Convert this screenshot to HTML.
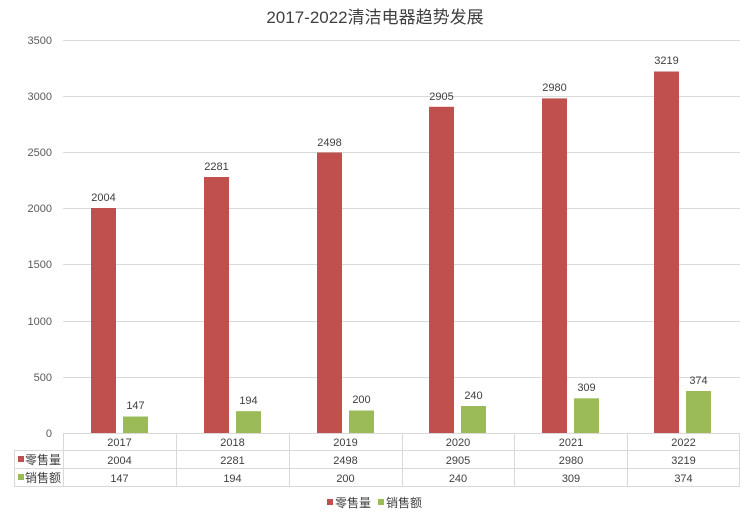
<!DOCTYPE html>
<html><head><meta charset="utf-8"><style>
body{margin:0;background:#fff;}
svg{display:block;font-family:"Liberation Sans","Noto Sans CJK SC",sans-serif;}
</style></head><body>
<svg width="750" height="515" viewBox="0 0 750 515">
<rect width="750" height="515" fill="#fff"/>
<text x="375" y="23" text-anchor="middle" font-size="17" fill="#404040">2017-2022清洁电器趋势发展</text>
<g stroke="#d9d9d9" stroke-width="1">
<line x1="63" y1="40.5" x2="740" y2="40.5"/>
<line x1="63" y1="96.5" x2="740" y2="96.5"/>
<line x1="63" y1="152.5" x2="740" y2="152.5"/>
<line x1="63" y1="208.5" x2="740" y2="208.5"/>
<line x1="63" y1="264.5" x2="740" y2="264.5"/>
<line x1="63" y1="321.5" x2="740" y2="321.5"/>
<line x1="63" y1="377.5" x2="740" y2="377.5"/>
</g>
<g font-size="11" fill="#595959" text-anchor="end">
<text x="52" y="44">3500</text><text x="52" y="100">3000</text><text x="52" y="156">2500</text>
<text x="52" y="212">2000</text><text x="52" y="268">1500</text><text x="52" y="325">1000</text>
<text x="52" y="381">500</text><text x="52" y="437">0</text>
</g>
<g id="bars" font-size="11" fill="#404040" text-anchor="middle">
<rect x="91" y="208" width="25" height="225" fill="#c0504d"/><text x="103.5" y="201">2004</text>
<rect x="123" y="416.5" width="25" height="16.5" fill="#9bbb59"/><text x="135.5" y="409">147</text>
<rect x="204" y="177" width="25" height="256" fill="#c0504d"/><text x="216.5" y="170">2281</text>
<rect x="236" y="411.2" width="25" height="21.8" fill="#9bbb59"/><text x="248.5" y="404">194</text>
<rect x="317" y="152.5" width="25" height="280.5" fill="#c0504d"/><text x="329.5" y="146">2498</text>
<rect x="349" y="410.5" width="25" height="22.5" fill="#9bbb59"/><text x="361.5" y="403">200</text>
<rect x="429" y="106.8" width="25" height="326.2" fill="#c0504d"/><text x="441.5" y="100">2905</text>
<rect x="461" y="406" width="25" height="27" fill="#9bbb59"/><text x="473.5" y="399">240</text>
<rect x="542" y="98.4" width="25" height="334.6" fill="#c0504d"/><text x="554.5" y="91">2980</text>
<rect x="574" y="398.3" width="25" height="34.7" fill="#9bbb59"/><text x="586.5" y="391">309</text>
<rect x="654" y="71.5" width="25" height="361.5" fill="#c0504d"/><text x="666.5" y="64">3219</text>
<rect x="686" y="391" width="25" height="42" fill="#9bbb59"/><text x="698.5" y="384">374</text>
</g>
<g stroke="#d9d9d9" stroke-width="1" fill="none">
<line x1="63" y1="433.5" x2="740" y2="433.5"/>
<line x1="14" y1="450.5" x2="740" y2="450.5"/>
<line x1="14" y1="468.5" x2="740" y2="468.5"/>
<line x1="14" y1="486.5" x2="740" y2="486.5"/>
<line x1="14.5" y1="450" x2="14.5" y2="487"/>
<line x1="63.5" y1="433" x2="63.5" y2="487"/>
<line x1="176.5" y1="433" x2="176.5" y2="487"/>
<line x1="289.5" y1="433" x2="289.5" y2="487"/>
<line x1="402.5" y1="433" x2="402.5" y2="487"/>
<line x1="514.5" y1="433" x2="514.5" y2="487"/>
<line x1="627.5" y1="433" x2="627.5" y2="487"/>
<line x1="739.5" y1="433" x2="739.5" y2="487"/>
</g>
<g font-size="11" fill="#404040" text-anchor="middle">
<text x="119.5" y="446">2017</text><text x="232.5" y="446">2018</text><text x="345.5" y="446">2019</text>
<text x="458" y="446">2020</text><text x="571" y="446">2021</text><text x="683.5" y="446">2022</text>
<text x="119.5" y="464">2004</text><text x="232.5" y="464">2281</text><text x="345.5" y="464">2498</text>
<text x="458" y="464">2905</text><text x="571" y="464">2980</text><text x="683.5" y="464">3219</text>
<text x="119.5" y="482">147</text><text x="232.5" y="482">194</text><text x="345.5" y="482">200</text>
<text x="458" y="482">240</text><text x="571" y="482">309</text><text x="683.5" y="482">374</text>
</g>
<rect x="18" y="456" width="6" height="6" fill="#c0504d"/>
<text x="25" y="464" font-size="12" fill="#404040">零售量</text>
<rect x="18" y="474" width="6" height="6" fill="#9bbb59"/>
<text x="25" y="482" font-size="12" fill="#404040">销售额</text>
<rect x="327" y="499" width="6" height="6" fill="#c0504d"/>
<text x="335" y="507" font-size="12" fill="#404040">零售量</text>
<rect x="378" y="499" width="6" height="6" fill="#9bbb59"/>
<text x="386" y="507" font-size="12" fill="#404040">销售额</text>
</svg>
</body></html>
